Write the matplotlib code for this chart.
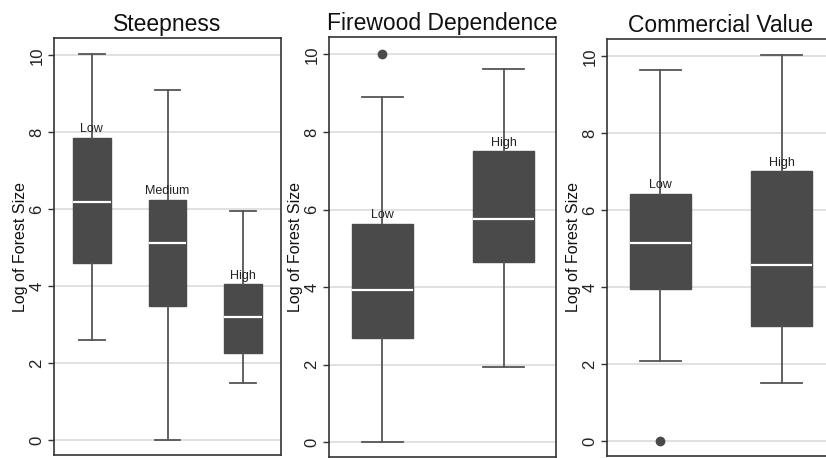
import matplotlib
matplotlib.use("Agg")
import matplotlib.pyplot as plt

plt.rcParams['font.family'] = ['Liberation Sans', 'DejaVu Sans']

# Steepness
steep_labels = ["Low", "Medium", "High"]
steep_whislo = [2.60, 0.0, 1.48]
steep_q1 = [4.60, 3.49, 2.27]
steep_med = [6.18, 5.12, 3.20]
steep_q3 = [7.85, 6.25, 4.05]
steep_whishi = [10.03, 9.11, 5.95]
steep_fliers = [[], [], []]

# Firewood dependence
fire_labels = ["Low", "High"]
fire_whislo = [0.0, 1.94]
fire_q1 = [2.70, 4.65]
fire_med = [3.92, 5.75]
fire_q3 = [5.64, 7.50]
fire_whishi = [8.90, 9.63]
fire_fliers = [[10.0], []]

# Commercial value
comm_labels = ["Low", "High"]
comm_whislo = [2.09, 1.51]
comm_q1 = [3.95, 2.99]
comm_med = [5.16, 4.59]
comm_q3 = [6.43, 7.01]
comm_whishi = [9.64, 10.04]
comm_fliers = [[0.0], []]

BOX = "#4a4a4a"
LINE = "#555555"
GRID = "#d9d9d9"


def make_stats(labels, lo, q1, med, q3, hi, fl):
    stats = []
    for i in range(len(labels)):
        stats.append(dict(label=labels[i], whislo=lo[i], q1=q1[i], med=med[i],
                          q3=q3[i], whishi=hi[i], fliers=fl[i]))
    return stats


def panel(ax, title, stats, xlim):
    pos = list(range(1, len(stats) + 1))
    ax.bxp(stats, positions=pos, widths=0.5, capwidths=0.34, patch_artist=True,
           manage_ticks=False,
           boxprops=dict(facecolor=BOX, edgecolor=BOX, linewidth=1),
           medianprops=dict(color="white", linewidth=1.6),
           whiskerprops=dict(color=LINE, linewidth=1.3),
           capprops=dict(color=LINE, linewidth=1.3),
           flierprops=dict(marker="o", markerfacecolor=BOX, markeredgecolor=BOX,
                           markersize=6))
    for p, s in zip(pos, stats):
        ax.annotate(s["label"], (p, s["q3"]), xytext=(0, 2), textcoords="offset points",
                    ha="center", va="bottom", fontsize=9, color="#222222")
    ax.set_xlim(*xlim)
    ax.set_ylim(-0.38, 10.45)
    ax.set_yticks([0, 2, 4, 6, 8, 10])
    ax.set_yticklabels(["0", "2", "4", "6", "8", "10"], rotation=90, va="center")
    ax.set_xticks([])
    ax.yaxis.grid(True, color=GRID, linewidth=1.1)
    ax.set_axisbelow(True)
    ax.tick_params(axis="y", length=4, width=1, color="#333333", labelsize=12,
                   labelcolor="#222222", pad=3)
    for sp in ax.spines.values():
        sp.set_color("#333333")
        sp.set_linewidth(1.2)
    ax.set_ylabel("Log of Forest Size", fontsize=11.5, color="#111111", labelpad=1)
    ax.set_title(title, fontsize=16.5, color="#111111", pad=5)


fig = plt.figure(figsize=(8.26, 4.58), dpi=100)
ax1 = fig.add_axes([54 / 826, 3 / 458, 227 / 826, 417 / 458])
ax2 = fig.add_axes([329 / 826, 1 / 458, 227 / 826, 420 / 458])
ax3 = fig.add_axes([607 / 826, 2 / 458, 227 / 826, 417 / 458])

panel(ax1, "Steepness",
      make_stats(steep_labels, steep_whislo, steep_q1, steep_med, steep_q3, steep_whishi, steep_fliers),
      (0.5, 3.5))
panel(ax2, "Firewood Dependence",
      make_stats(fire_labels, fire_whislo, fire_q1, fire_med, fire_q3, fire_whishi, fire_fliers),
      (0.56, 2.43))
panel(ax3, "Commercial Value",
      make_stats(comm_labels, comm_whislo, comm_q1, comm_med, comm_q3, comm_whishi, comm_fliers),
      (0.56, 2.43))

fig.savefig("out.png", dpi=100)
